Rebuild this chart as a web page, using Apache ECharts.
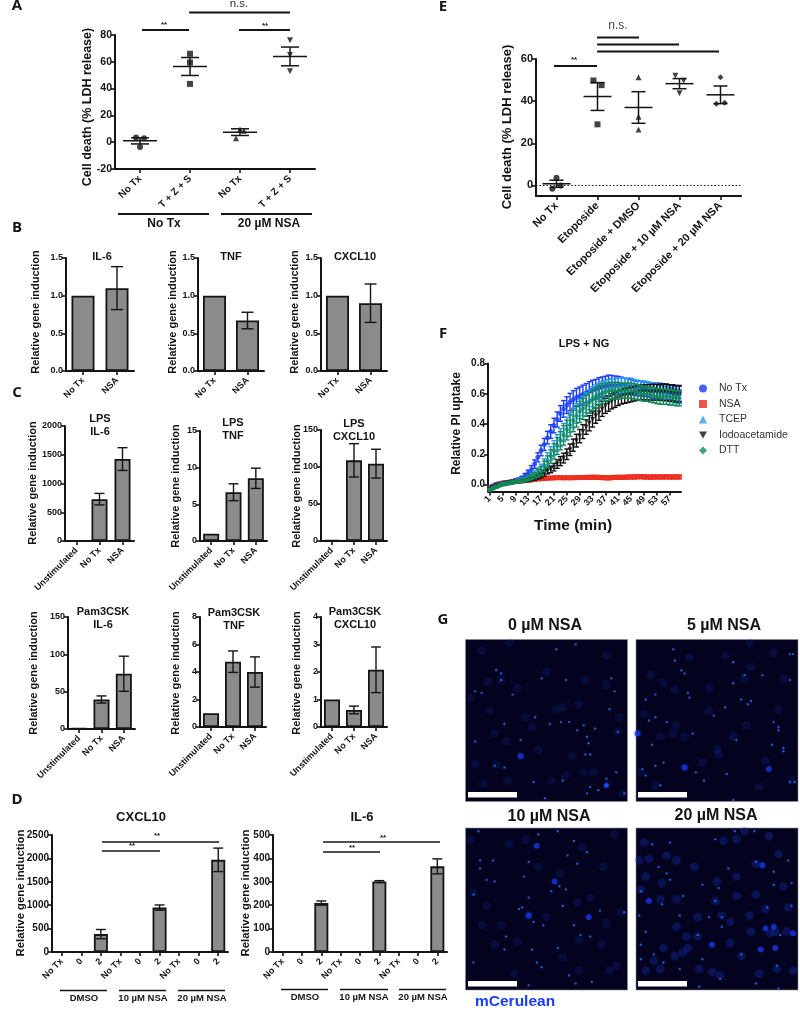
<!DOCTYPE html>
<html><head><meta charset="utf-8">
<style>html,body{margin:0;padding:0;background:#fff}#c{width:800px;height:1021px;filter:blur(.3px)}</style>
<script src="https://cdn.jsdelivr.net/npm/echarts@6/dist/echarts.min.js"></script>
</head><body><div id="c"></div>
<script>
// ---------- DATA ----------
const catsA=['No Tx','T + Z + S','No Tx','T + Z + S'];
const meanA=[1,56.5,7.5,64];
const semA=[2.3,6.7,2.5,7];
const pointsANoTx=[[0.42,3.5],[0.58,3],[0.5,-3.5]];
const pointsATzs=[[1.5,66],[1.5,59.5],[1.5,43.5]];
const pointsANsaNoTx=[[2.5,9.5],[2.58,8.5],[2.42,3]];
const pointsANsaTzs=[[3.5,76],[3.5,65],[3.5,53]];

const catsE=['No Tx','Etoposide','Etoposide + DMSO','Etoposide + 10 µM NSA','Etoposide + 20 µM NSA'];
const meanE=[0.8,42.2,37,48.3,43];
const semE=[1.7,6.6,7.5,2.4,4.2];
const pointsENoTx=[[0.5,3.6],[0.4,-1.6],[0.6,0]];
const pointsEEto=[[1.4,49.8],[1.6,47.6],[1.5,29]];
const pointsEDmso=[[2.5,51.3],[2.5,32.6],[2.5,26.6]];
const pointsE10=[[3.4,52],[3.6,49.7],[3.5,43.8]];
const pointsE20=[[4.5,51.4],[4.4,38.8],[4.6,39.2]];

const catsTwo=['No Tx','NSA'];
const catsThree=['Unstimulated','No Tx','NSA'];
const catsDose=['No Tx','0','2','No Tx','0','2','No Tx','0','2'];

const bIl6=[1,1.1], bIl6Err=[0,0.285];
const bTnf=[1,0.67], bTnfErr=[0,0.11];
const bCxcl=[1,0.9], bCxclErr=[0,0.255];
const lpsIl6=[1,728,1425], lpsIl6Err=[0,100,198];
const lpsTnf=[1,6.65,8.55], lpsTnfErr=[0,1.15,1.38];
const lpsCxcl=[1,109,104.5], lpsCxclErr=[0,22.5,19.5];
const pamIl6=[1,39.5,74], pamIl6Err=[0,4.8,23.5];
const pamTnf=[1,4.75,4], pamTnfErr=[0,0.78,1.1];
const pamCxcl=[1,0.62,2.08], pamCxclErr=[0,0.14,0.83];
const dCxcl=[1,1,382,1,1,949,1,1,1969], dCxclErr=[0,0,99,0,0,56,0,0,251];
const dIl6=[1,1,209,1,1,301,1,1,366], dIl6Err=[0,0,9,0,0,4,0,0,32];

const minutes=Array.from({length:60},(_,i)=>String(i+1));
const fNoTx=[-.02,-.01,0,.005,.01,.012,.015,.02,.025,.03,.04,.055,.075,.10,.135,.18,.225,.265,.31,.35,.39,.43,.47,.50,.525,.545,.56,.575,.585,.595,.605,.615,.625,.63,.64,.645,.65,.655,.655,.655,.655,.655,.65,.65,.645,.64,.635,.635,.63,.63,.625,.62,.62,.62,.615,.61,.61,.605,.60,.60];
const fNoTxErr=[.01,.01,.01,.01,.01,.01,.01,.01,.012,.013,.015,.018,.02,.025,.028,.03,.035,.04,.042,.045,.048,.05,.052,.055,.055,.058,.06,.06,.06,.062,.062,.065,.065,.065,.066,.066,.066,.068,.066,.062,.06,.055,.052,.05,.05,.048,.048,.048,.048,.048,.048,.05,.05,.05,.05,.05,.05,.05,.05,.05];
const fNsa=[-.025,-.015,-.005,.002,.008,.012,.015,.018,.02,.022,.024,.026,.028,.03,.034,.036,.038,.04,.042,.043,.044,.045,.045,.044,.045,.044,.045,.046,.046,.047,.047,.047,.048,.048,.047,.046,.045,.044,.046,.047,.048,.047,.048,.049,.05,.05,.051,.052,.05,.05,.049,.05,.05,.05,.05,.051,.05,.05,.05,.05];
const fNsaErr=[.008,.008,.008,.008,.008,.008,.008,.008,.008,.008,.008,.008,.008,.008,.008,.008,.008,.01,.01,.01,.01,.01,.01,.01,.01,.01,.01,.01,.01,.01,.012,.012,.012,.012,.012,.012,.012,.012,.012,.012,.012,.012,.012,.012,.012,.012,.012,.012,.012,.012,.012,.012,.012,.012,.012,.012,.012,.012,.012,.012];
const fTcep=[-.03,-.02,-.01,-.002,.004,.008,.012,.016,.02,.024,.03,.034,.04,.055,.07,.085,.105,.135,.17,.205,.24,.275,.31,.345,.38,.41,.44,.47,.50,.52,.54,.56,.58,.595,.61,.62,.63,.64,.645,.65,.655,.655,.655,.655,.655,.65,.645,.64,.64,.635,.63,.625,.62,.61,.605,.60,.595,.59,.585,.58];
const fTcepErr=[.01,.01,.01,.01,.01,.01,.01,.01,.01,.01,.012,.012,.015,.018,.02,.025,.03,.035,.04,.045,.05,.055,.06,.06,.065,.065,.065,.065,.065,.065,.065,.065,.065,.065,.06,.06,.06,.055,.055,.05,.05,.05,.048,.048,.048,.045,.045,.045,.045,.045,.045,.045,.045,.045,.045,.045,.045,.045,.045,.045];
const fIodo=[-.03,-.02,-.01,-.002,.004,.008,.012,.015,.018,.02,.022,.025,.03,.035,.04,.05,.06,.075,.09,.10,.115,.135,.155,.175,.20,.23,.26,.29,.32,.35,.38,.405,.43,.455,.475,.50,.52,.535,.55,.56,.57,.58,.585,.59,.595,.60,.605,.61,.61,.61,.61,.61,.61,.61,.61,.61,.605,.605,.60,.60];
const fIodoErr=[.008,.008,.008,.008,.008,.008,.008,.008,.008,.008,.008,.008,.01,.01,.012,.014,.016,.018,.02,.022,.025,.028,.03,.032,.035,.038,.04,.042,.044,.046,.048,.05,.05,.05,.05,.05,.05,.05,.05,.05,.048,.048,.048,.048,.048,.048,.048,.048,.05,.05,.052,.052,.052,.052,.055,.055,.055,.055,.055,.055];
const fDtt=[-.035,-.025,-.015,-.005,.002,.006,.01,.014,.018,.022,.026,.03,.04,.05,.06,.075,.09,.12,.15,.185,.22,.255,.29,.325,.36,.39,.42,.45,.48,.50,.52,.54,.56,.575,.59,.60,.61,.615,.62,.62,.62,.62,.62,.62,.62,.615,.61,.605,.60,.60,.595,.59,.585,.58,.58,.58,.575,.575,.57,.57];
const fDttErr=[.01,.01,.01,.01,.01,.01,.01,.01,.01,.01,.012,.012,.015,.018,.02,.025,.03,.035,.04,.045,.05,.055,.06,.065,.065,.07,.07,.07,.07,.07,.07,.07,.07,.07,.065,.065,.06,.06,.055,.055,.055,.05,.05,.05,.05,.05,.05,.05,.05,.05,.05,.05,.05,.05,.05,.05,.05,.05,.05,.05];

// fluorescent spots: [x %, y %]
const g0Dim=[[10,7],[27,2],[18,58],[34,72],[56,43],[37,48],[6,77],[19,77],[62,84],[53,87],[79,82],[87,10],[74,25],[87,28],[32,30],[22,25],[14,26],[3,36],[11,89],[97,95],[26,87],[73,82],[66,72],[41,54],[94,57],[95,48],[60,42],[25,63],[50,20],[45,68],[70,40],[15,44]];
const g0Bright=[[56,6],[68,3],[19,19],[22,21],[22,25],[90,24],[92,32],[47,24],[62,25],[29,34],[43,48],[89,43],[24,52],[73,53],[69,56],[80,55],[75,60],[34,62],[76,64],[74,71],[77,71],[18,78],[24,79],[93,82],[87,86],[60,87],[77,91],[82,93],[75,95],[87,90],[98,95],[42,88],[49,98],[6,63],[10,33],[6,32],[94,57],[59,51],[64,51],[52,52]];
const g0Large=[[34,72],[87,90]];
const g5Dim=[[1,58],[30,79],[24,31],[67,24],[71,17],[45,44],[50,68],[51,71],[15,60],[23,58],[68,53],[88,43],[91,24],[9,22],[33,11],[70,2],[5,46],[96,87],[3,82],[41,76],[76,91],[25,53],[17,27],[55,10],[30,60],[60,60],[80,75],[12,90],[45,30],[85,8]];
const g5Bright=[[24,13],[28,19],[30,21],[95,25],[67,22],[60,27],[78,22],[95,9],[97,9],[60,14],[32,33],[33,36],[12,34],[6,37],[65,37],[71,38],[69,40],[55,42],[8,50],[12,48],[19,51],[48,47],[85,51],[88,54],[88,56],[35,58],[62,62],[84,65],[10,65],[91,67],[91,69],[12,78],[17,76],[4,80],[6,84],[37,82],[56,83],[42,87],[15,90],[95,88],[98,88],[60,99],[23,6]];
const g5Large=[[82,80],[1,58],[30,79]];
const g10Dim=[[13,48],[39,54],[69,46],[70,69],[32,70],[85,24],[27,10],[93,85],[89,88],[77,43],[70,88],[3,7],[92,4],[45,24],[37,7],[5,40],[50,55],[96,52],[18,72],[87,59],[58,28],[22,60],[60,80],[30,90],[84,72],[10,60],[72,12]];
const g10Bright=[[8,2],[45,4],[57,2],[67,8],[17,20],[9,20],[9,25],[39,21],[75,15],[63,17],[69,22],[36,30],[18,33],[13,32],[5,41],[53,39],[58,36],[39,43],[62,38],[35,49],[33,50],[60,48],[83,51],[98,52],[42,58],[48,60],[67,60],[25,67],[71,66],[77,67],[57,74],[41,75],[24,75],[5,83],[44,83],[47,86],[64,91],[68,96],[39,97],[78,95]];
const g10Large=[[44,11],[55,33],[39,54],[76,55]];
const g20Dim=[[5,9],[2,20],[8,19],[19,17],[25,20],[36,24],[54,8],[62,7],[67,2],[82,5],[88,16],[74,22],[62,30],[50,33],[16,34],[6,30],[3,38],[15,44],[25,44],[49,45],[62,42],[74,41],[91,36],[94,49],[80,50],[70,54],[38,55],[25,61],[58,58],[53,54],[31,67],[38,67],[17,74],[11,82],[6,88],[24,79],[32,74],[29,77],[39,87],[47,89],[52,91],[65,79],[58,71],[71,64],[86,64],[83,65],[93,64],[87,87],[76,90],[97,88],[15,87]];
const g20Bright=[[10,10],[21,9],[49,7],[61,2],[73,2],[57,25],[74,21],[85,27],[94,20],[14,24],[19,28],[21,32],[51,37],[41,35],[85,35],[96,34],[3,39],[29,42],[49,45],[16,47],[81,49],[96,48],[27,54],[2,54],[45,55],[53,55],[6,64],[38,66],[53,61],[89,66],[3,72],[11,78],[3,81],[65,78],[41,81],[87,85],[17,83],[27,87],[39,98],[74,96],[88,99],[52,93]];
const g20Large=[[8,45],[85,61],[80,62],[97,65],[86,74],[78,23],[77,75],[47,72]];

// ---------- BUILDERS ----------
const FONT='"Liberation Sans",Arial,sans-serif';
const INK='#141414';
const DOWN_TRIANGLE='path://M0 0L10 0L5 9Z';
const plain=v=>String(v);
const grid=[],xAxis=[],yAxis=[],series=[],graphic=[];

function text(x,y,s,o={}){
  graphic.push({type:'text',x,y,rotation:o.rot||0,z:50,silent:true,style:{
    text:s,fill:o.color||INK,font:`${o.weight||'bold'} ${o.size||11}px ${o.family||FONT}`,
    textAlign:o.align||'center',textVerticalAlign:'middle'}});
}
function rule(x1,y1,x2,y2,w){
  graphic.push({type:'line',z:50,silent:true,shape:{x1,y1,x2,y2},style:{stroke:INK,lineWidth:w||1.5}});
}
function addGrid(x0,x1,yTop,yBottom){
  grid.push({left:x0,top:yTop,width:x1-x0,height:yBottom-yTop,containLabel:false});
  return grid.length-1;
}
function catAxis(g,cats,size,extra){
  xAxis.push(Object.assign({type:'category',gridIndex:g,data:cats,boundaryGap:true,
    axisLine:{onZero:false,lineStyle:{color:INK,width:2}},
    axisTick:{show:true,length:4,alignWithLabel:true,interval:0,lineStyle:{color:INK,width:1.6}},
    axisLabel:{show:true,rotate:45,interval:0,margin:8,color:INK,fontFamily:FONT,fontWeight:'bold',fontSize:size},
    splitLine:{show:false}},extra||{}));
  return xAxis.length-1;
}
function valAxis(g,min,max,interval,size,fmt,custom){
  const a={type:'value',gridIndex:g,min,max,
    axisLine:{show:true,onZero:false,lineStyle:{color:INK,width:2}},
    axisTick:{show:true,length:4,lineStyle:{color:INK,width:1.6}},
    axisLabel:{show:true,margin:3,color:INK,fontFamily:FONT,fontWeight:'bold',fontSize:size,formatter:fmt||plain},
    splitLine:{show:false}};
  if(custom){a.axisTick.customValues=custom;a.axisLabel.customValues=custom;}else a.interval=interval;
  yAxis.push(a);
  return yAxis.length-1;
}
function hiddenX(g,max){
  xAxis.push({type:'value',gridIndex:g,min:0,max,show:false,splitLine:{show:false}});
  return xAxis.length-1;
}
function errSeries(xi,yi,rows,cap,mean,color,lw,z){
  series.push({type:'custom',xAxisIndex:xi,yAxisIndex:yi,silent:true,z:z||5,animation:false,
    encode:{x:0,y:1},data:rows,clip:false,
    renderItem(p,api){
      const x=api.value(0),m=api.value(1),e=api.value(2);
      const c=api.coord([x,m]),hi=api.coord([x,m+e]),lo=api.coord([x,m-e]);
      const st={stroke:color,lineWidth:lw};
      const kids=[];
      const seg=(a,b,c2,d)=>kids.push({type:'line',shape:{x1:a,y1:b,x2:c2,y2:d},style:st});
      if(e>0){
        seg(c[0],hi[1],c[0],lo[1]);
        seg(c[0]-cap,hi[1],c[0]+cap,hi[1]);
        seg(c[0]-cap,lo[1],c[0]+cap,lo[1]);
      }
      if(mean) seg(c[0]-mean,c[1],c[0]+mean,c[1]);
      return {type:'group',children:kids};
    }});
}
function barPanel(p){
  const g=addGrid(p.x0,p.x1,p.yTop,p.y0);
  const xi=catAxis(g,p.cats,p.lab);
  const yi=valAxis(g,0,p.max,p.step,p.tick,p.fmt);
  series.push({type:'bar',xAxisIndex:xi,yAxisIndex:yi,data:p.vals,barWidth:p.barW,animation:false,silent:true,
    itemStyle:{color:'#8b8b8b',borderColor:INK,borderWidth:1.8}});
  errSeries(xi,yi,p.vals.map((v,i)=>[i,v,p.errs[i]]),p.cap,0,INK,1.4,6);
  (Array.isArray(p.title)?p.title:[p.title]).forEach((t,i)=>text(p.tx,p.ty+i*p.tStep,t,{size:p.tSize||11}));
  text(p.lx,p.ly,'Relative gene induction',{rot:Math.PI/2,size:p.lSize||11});
}
function dotPanel(p){
  const g=addGrid(p.x0,p.x1,p.yTop,p.yBottom);
  catAxis(g,p.cats,p.lab);
  const xv=hiddenX(g,p.cats.length);
  const yi=valAxis(g,p.min,p.max,p.step,p.tick,undefined,p.custom);
  p.groups.forEach(gr=>{
    series.push({type:'scatter',xAxisIndex:xv,yAxisIndex:yi,data:gr.pts,symbol:gr.sym,
      symbolSize:p.sz,itemStyle:{color:INK},silent:true,animation:false,z:4});
  });
  errSeries(xv,yi,p.means.map((m,i)=>[i+0.5,m,p.sems[i]]),p.cap,p.meanW,INK,1.5,5);
  return {g,xv,yi};
}

// ---------- PANEL A ----------
dotPanel({x0:115,x1:315,yTop:35,yBottom:169,cats:catsA,lab:10,min:-20,max:80,step:20,tick:10.5,sz:6,cap:9,meanW:17,
  means:meanA,sems:semA,groups:[{pts:pointsANoTx,sym:'circle'},{pts:pointsATzs,sym:'rect'},{pts:pointsANsaNoTx,sym:'triangle'},{pts:pointsANsaTzs,sym:DOWN_TRIANGLE}]});
text(88,107,'Cell death (% LDH release)',{rot:Math.PI/2,size:12.5});
rule(142,30,189,30,1.8);rule(239,30,290,30,1.8);rule(189,12.5,290,12.5,1.8);
text(164,25,'**',{size:8});text(265,25.5,'**',{size:8});text(239,4,'n.s.',{size:11.5,weight:'normal',color:'#333'});
rule(118,214,209,214,1.8);rule(221,214,312,214,1.8);
text(164,224,'No Tx',{size:12});text(269,224,'20 µM NSA',{size:12});

// ---------- PANEL B ----------
const fmt1=v=>v.toFixed(1);
const bCommon={yTop:258,y0:371,cats:catsTwo,lab:9,max:1.5,step:.5,tick:9,fmt:fmt1,barW:23,cap:6,ty:257,tStep:0};
barPanel({...bCommon,x0:66,x1:134,vals:bIl6,errs:bIl6Err,title:'IL-6',tx:102,lx:36,ly:312});
barPanel({...bCommon,x0:198,x1:264,vals:bTnf,errs:bTnfErr,title:'TNF',tx:231,lx:173,ly:312});
barPanel({...bCommon,x0:321,x1:387,vals:bCxcl,errs:bCxclErr,title:'CXCL10',tx:355,lx:295,ly:312});

// ---------- PANEL C ----------
const cTop={y0:541,cats:catsThree,lab:9,tick:9,barW:16,cap:5,tStep:13};
barPanel({...cTop,x0:65,x1:134,yTop:426,max:2000,step:500,vals:lpsIl6,errs:lpsIl6Err,title:['LPS','IL-6'],tx:100,ty:419,lx:33,ly:483});
barPanel({...cTop,x0:200,x1:267,yTop:431,max:15,step:5,vals:lpsTnf,errs:lpsTnfErr,title:['LPS','TNF'],tx:233,ty:423,lx:176,ly:486});
barPanel({...cTop,x0:321,x1:387,yTop:430,max:150,step:50,vals:lpsCxcl,errs:lpsCxclErr,title:['LPS','CXCL10'],tx:354,ty:424,lx:297,ly:486});
const cBot={cats:catsThree,lab:9,tick:9,barW:16,cap:5,tStep:13};
barPanel({...cBot,x0:68,x1:135,yTop:617,y0:729,max:150,step:50,vals:pamIl6,errs:pamIl6Err,title:['Pam3CSK','IL-6'],tx:103,ty:612,lx:34,ly:673});
barPanel({...cBot,x0:200,x1:266,yTop:617,y0:727,max:8,step:2,vals:pamTnf,errs:pamTnfErr,title:['Pam3CSK','TNF'],tx:234,ty:613,lx:176,ly:673});
barPanel({...cBot,x0:321,x1:387,yTop:617,y0:727,max:4,step:1,vals:pamCxcl,errs:pamCxclErr,title:['Pam3CSK','CXCL10'],tx:355,ty:612,lx:297,ly:673});

// ---------- PANEL D ----------
const dCommon={yTop:835,y0:952,cats:catsDose,lab:9,tick:10,barW:14,cap:5,tSize:13,tStep:0,ty:817,lSize:11.3,ly:893};
barPanel({...dCommon,x0:52,x1:228,max:2500,step:500,vals:dCxcl,errs:dCxclErr,title:'CXCL10',tx:141,lx:21});
barPanel({...dCommon,x0:273,x1:447,max:500,step:100,vals:dIl6,errs:dIl6Err,title:'IL-6',tx:362,lx:246});
rule(102,842,219,842,1.6);rule(102,851,160,851,1.6);text(157,836,'**',{size:8});text(132,846,'**',{size:8});
rule(323,842,440,842,1.6);rule(323,852,380,852,1.6);text(383,838,'**',{size:8});text(352,848,'**',{size:8});
[[60,107],[119,166],[178,225]].forEach(r=>rule(r[0],990.5,r[1],990.5,1.6));
[[281,328],[340,388],[399,446]].forEach(r=>rule(r[0],989.5,r[1],989.5,1.6));
[[84,'DMSO'],[143,'10 µM NSA'],[202,'20 µM NSA']].forEach(r=>text(r[0],998,r[1],{size:9.5}));
[[305,'DMSO'],[364,'10 µM NSA'],[423,'20 µM NSA']].forEach(r=>text(r[0],997,r[1],{size:9.5}));

// ---------- PANEL E ----------
const E=dotPanel({x0:536,x1:741,yTop:59,yBottom:196,cats:catsE,lab:11,min:-5,max:60,custom:[0,20,40,60],tick:11,sz:6,cap:7,meanW:14,
  means:meanE,sems:semE,groups:[{pts:pointsENoTx,sym:'circle'},{pts:pointsEEto,sym:'rect'},{pts:pointsEDmso,sym:'triangle'},{pts:pointsE10,sym:DOWN_TRIANGLE},{pts:pointsE20,sym:'diamond'}]});
series.push({type:'line',xAxisIndex:E.xv,yAxisIndex:E.yi,data:[[0,0],[5,0]],symbol:'none',silent:true,animation:false,z:3,
  lineStyle:{color:INK,width:1,type:[1.5,2]}});
text(507,127,'Cell death (% LDH release)',{rot:Math.PI/2,size:13});
rule(554,66,597,66,1.8);text(574,60,'**',{size:8});
rule(597,37.5,639,37.5,2);rule(597,44.5,679,44.5,1.8);rule(597,51.5,719,51.5,1.8);
text(618,26,'n.s.',{size:12,weight:'normal',color:'#444'});

// ---------- PANEL F ----------
const fg=addGrid(488,681,363.5,491.5);
const fx=catAxis(fg,minutes,9,{
  axisTick:{show:true,length:4,alignWithLabel:true,interval:3,lineStyle:{color:INK,width:1.6}},
  axisLabel:{show:true,rotate:45,interval:3,margin:6,color:INK,fontFamily:FONT,fontWeight:'bold',fontSize:9}});
const fy=valAxis(fg,-0.046,0.8,null,10,fmt1,[0,.2,.4,.6,.8]);
const fSeries=[
  {name:'No Tx',vals:fNoTx,errs:fNoTxErr,color:'#1a3cf5',sym:'circle'},
  {name:'NSA',vals:fNsa,errs:fNsaErr,color:'#ee2a1c',sym:'rect'},
  {name:'TCEP',vals:fTcep,errs:fTcepErr,color:'#2a9cf0',sym:'triangle'},
  {name:'Iodoacetamide',vals:fIodo,errs:fIodoErr,color:'#111111',sym:DOWN_TRIANGLE},
  {name:'DTT',vals:fDtt,errs:fDttErr,color:'#128a55',sym:'diamond'}
];
fSeries.forEach((s,i)=>{
  errSeries(fx,fy,s.vals.map((v,k)=>[k,v,s.errs[k]]),2.5,0,s.color,1.4,10+i*2);
  series.push({type:'scatter',name:s.name,xAxisIndex:fx,yAxisIndex:fy,data:s.vals,symbol:s.sym,
    symbolSize:5,itemStyle:{color:s.color},silent:true,animation:false,z:11+i*2});
});
text(584,344,'LPS + NG',{size:11});
text(457,423.5,'Relative PI uptake',{rot:Math.PI/2,size:12});
text(573,526,'Time (min)',{size:15.5});

// ---------- PANEL G ----------
const soft=(a,b)=>({type:'radial',x:.5,y:.5,r:.5,colorStops:[{offset:0,color:a},{offset:.7,color:a},{offset:1,color:b}]});
function micro(x0,y0,dim,bright,large,title,tx,ty,barX,barY,glow){
  const g=grid.length;
  grid.push({left:x0,top:y0,width:162,height:162,show:true,backgroundColor:'#03031f',borderWidth:0.6,borderColor:'#8a8a92',containLabel:false});
  xAxis.push({type:'value',gridIndex:g,min:0,max:100,show:false,splitLine:{show:false}});
  yAxis.push({type:'value',gridIndex:g,min:0,max:100,inverse:true,show:false,splitLine:{show:false}});
  const xi=xAxis.length-1,yi=yAxis.length-1;
  const add=(d,size,color)=>series.push({type:'scatter',xAxisIndex:xi,yAxisIndex:yi,data:d,symbolSize:size,silent:true,animation:false,
    itemStyle:{color},z:3});
  add(dim,10,soft(`rgba(22,50,190,${glow})`,'rgba(22,50,190,0)'));
  add(large,7,soft('#1338f0','rgba(19,56,240,0)'));
  add(bright,2.4,'#1e70ff');
  text(tx,ty,title,{size:16});
  graphic.push({type:'rect',z:60,silent:true,shape:{x:barX,y:barY,width:49,height:5.5},style:{fill:'#fff'}});
}
micro(465.5,639.5,g0Dim,g0Bright,g0Large,'0 µM NSA',545,626,468,792,.22);
micro(636,639.5,g5Dim,g5Bright,g5Large,'5 µM NSA',724,626,638,792,.24);
micro(465.5,828,g10Dim,g10Bright,g10Large,'10 µM NSA',549,817,468,981,.24);
micro(636,828,g20Dim,g20Bright,g20Large,'20 µM NSA',716,816,638,981,.42);
text(475,1002,'mCerulean',{size:15.5,color:'#1a3cff',align:'left'});

// ---------- PANEL LETTERS ----------
[['A',17,6],['B',17,228],['C',17,393],['D',17,800],['E',443,7],['F',443,334],['G',443,620]].forEach(l=>
  text(l[1],l[2],l[0],{size:15,family:'"Open Sans",sans-serif'}));

// ---------- CHART ----------
const chart=echarts.init(document.getElementById('c'),null,{renderer:'canvas'});
chart.setOption({
  animation:false,backgroundColor:'#fff',grid,xAxis,yAxis,series,graphic:{elements:graphic},
  legend:{data:fSeries.map(s=>s.name),orient:'vertical',left:694,top:378,itemWidth:8,itemHeight:8,itemGap:4.5,
    selectedMode:false,textStyle:{color:'#333',fontFamily:FONT,fontSize:10.5,padding:[0,0,0,7]}},
  tooltip:{show:false}
});
</script></body></html>
